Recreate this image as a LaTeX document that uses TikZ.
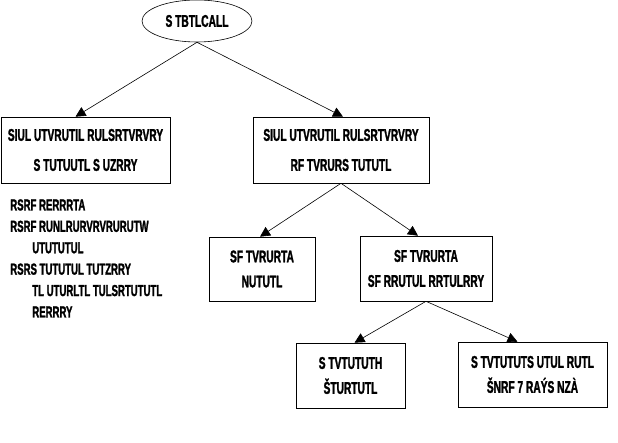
\documentclass[tikz,border=0pt]{standalone}
\usepackage{fontspec}
\newfontfamily\gfont[FakeStretch=0.6,FakeBold=1.5]{Liberation Sans}
\usetikzlibrary{arrows.meta,shapes.geometric}
\tikzset{
  gtext/.style={font=\gfont\bfseries\fontsize{17}{30}\selectfont, align=center},
  gtextb/.style={font=\gfont\bfseries\fontsize{17}{25}\selectfont, align=center},
  ell/.style={draw, ellipse, minimum width=110pt, minimum height=42pt, inner sep=0pt, gtext},
  box/.style={draw, rectangle, inner sep=0pt},
  arr/.style={-{Triangle[width=10pt,length=10pt]}, line width=0.6pt},
  listtext/.style={font=\gfont\bfseries\fontsize{16}{21.4}\selectfont, align=left, anchor=north west, inner sep=0pt}
}
\begin{document}
\begin{tikzpicture}[x=1pt,y=-1pt, line width=0.6pt]
\useasboundingbox (0,0) rectangle (618,443);
\node[ell] (root) at (197,21) {S TBTLCALL};
\node[box, gtext, minimum width=169pt, minimum height=66pt] (lb) at (85.5,150) {SIUL UTVRUTIL RULSRTVRVRY\\S TUTUUTL S UZRRY};
\node[box, gtext, minimum width=176pt, minimum height=66pt] (mb) at (341,150) {SIUL UTVRUTIL RULSRTVRVRY\\RF TVRURS TUTUTL};
\node[box, gtextb, minimum width=106pt, minimum height=64pt] (b3) at (262,269) {SF TVRURTA\\NUTUTL};
\node[box, gtextb, minimum width=132pt, minimum height=65pt] (b4) at (426,268.5) {SF TVRURTA\\SF RRUTUL RRTULRRY};
\node[box, gtextb, minimum width=109pt, minimum height=65pt] (b5) at (350.5,375.5) {S TVTUTUTH\\ŠTURTUTL};
\node[box, gtextb, minimum width=149pt, minimum height=65pt] (b6) at (532.5,374.5) {S TVTUTUTS UTUL RUTL\\ŠNRF 7 RAÝS NZÀ};
\node[listtext] (lst) at (10,199) {RSRF RERRRTA\\RSRF RUNLRURVRVRURUTW\\\hspace*{22pt}UTUTUTUL\\RSRS TUTUTUL TUTZRRY\\\hspace*{22pt}TL UTURLTL TULSRTUTUTL\\\hspace*{22pt}RERRRY};
\draw[arr] (root.south) -- ([xshift=-10pt]lb.north);
\draw[arr] (root.south) -- ([xshift=2pt]mb.north);
\draw[arr] (mb.south) -- ([xshift=-2pt]b3.north);
\draw[arr] (mb.south) -- ([xshift=-8pt]b4.north);
\draw[arr] (b4.south) -- ([xshift=4pt]b5.north);
\draw[arr] (b4.south) -- ([xshift=-15pt]b6.north);
\end{tikzpicture}
\end{document}
